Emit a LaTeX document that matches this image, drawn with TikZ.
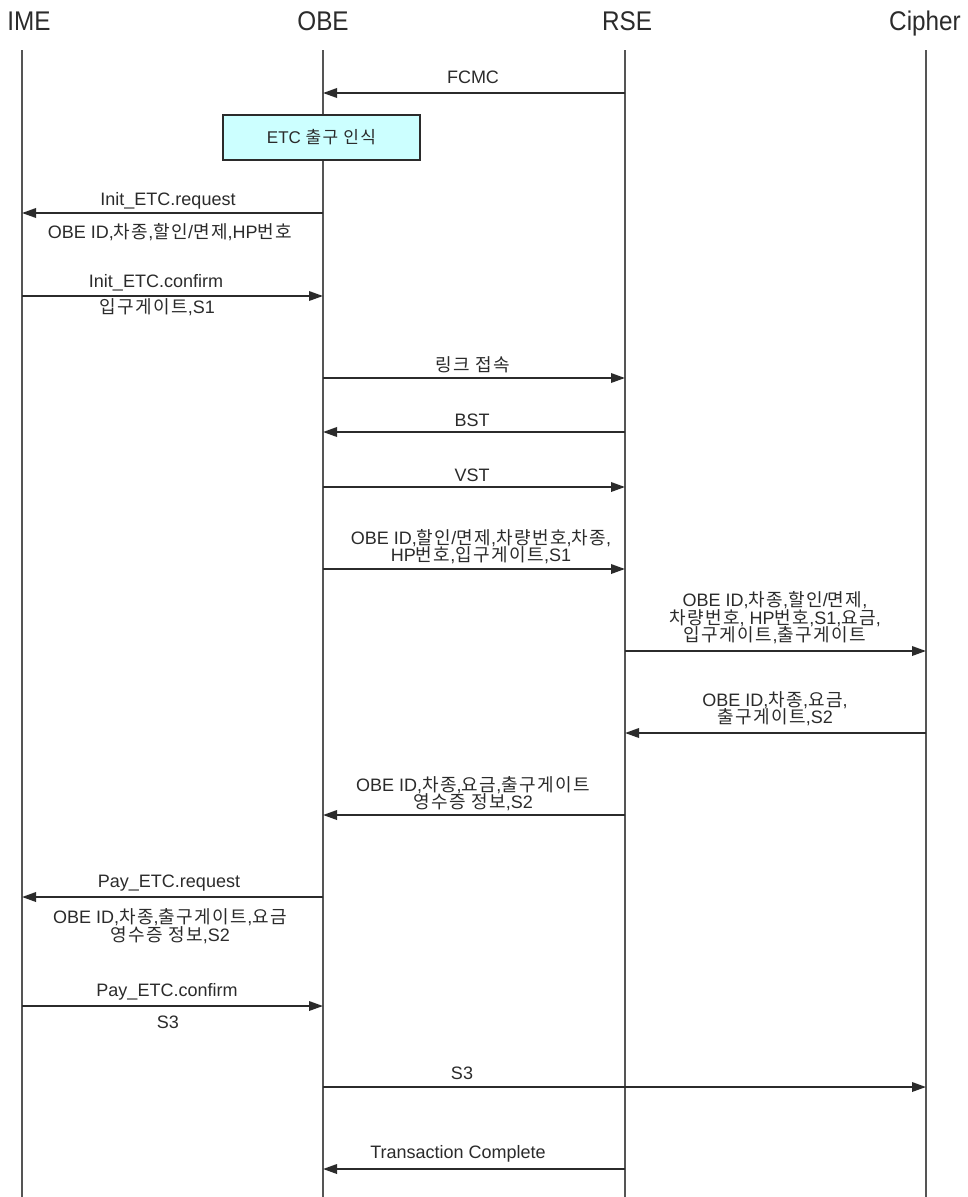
\documentclass[tikz,border=0pt]{standalone}
\usepackage{fontspec}
\setmainfont{Liberation Sans}
\newfontfamily\kr{Noto Sans CJK KR}[Scale=1.0,LetterSpace=8]
\usepackage{graphicx}
\usetikzlibrary{arrows.meta}
\newcommand\K[1]{{\kr #1}}
\definecolor{ink}{HTML}{2B2B2B}
\definecolor{boxfill}{HTML}{CCFFFF}
\newcommand\msg[4]{\coordinate (#1a) at (#2,#4);\coordinate (#1b) at (#3,#4);\draw[msgarrow] (#1a) -- (#1b);}
\begin{document}
\begin{tikzpicture}[x=1pt,y=-1pt,
  lifeline/.style={draw=ink!80, line width=1.4pt},
  msgarrow/.style={draw=ink, line width=1.8pt, -{Triangle[length=14pt,width=9.5pt]}},
  lbl/.style={text=ink, font=\fontsize{18}{17.5}\selectfont, align=center, inner sep=0pt},
  head/.style={text=ink, font=\fontsize{27}{27}\selectfont, inner sep=0pt, anchor=base},
  procbox/.style={draw=ink, line width=1.8pt, fill=boxfill, minimum width=197pt, minimum height=45pt, text=ink, font=\fontsize{17}{17}\selectfont, inner sep=0pt}]
\useasboundingbox (0,0) rectangle (968,1197);
\fill[white] (0,0) rectangle (968,1197);
\def\xI{22}\def\xO{323}\def\xR{625}\def\xC{926}
% headers
\node[head] (hIME) at (29,30) {\scalebox{0.9}[1]{IME}};
\node[head] (hOBE) at (323,30) {\scalebox{0.9}[1]{OBE}};
\node[head] (hRSE) at (627,30) {\scalebox{0.9}[1]{RSE}};
\node[head] (hCip) at (925,30) {\scalebox{0.9}[1]{Cipher}};
% lifelines
\coordinate (Itop) at (\xI,50); \coordinate (Ibot) at (\xI,1197);
\coordinate (Otop) at (\xO,50); \coordinate (Obot) at (\xO,1197);
\coordinate (Rtop) at (\xR,50); \coordinate (Rbot) at (\xR,1197);
\coordinate (Ctop) at (\xC,50); \coordinate (Cbot) at (\xC,1197);
\draw[lifeline] (Itop) -- (Ibot);
\draw[lifeline] (Otop) -- (Obot);
\draw[lifeline] (Rtop) -- (Rbot);
\draw[lifeline] (Ctop) -- (Cbot);
% process box
\node[procbox] (box) at (321.5,137.5) {\raisebox{3pt}{ETC \K{출구 인식}}};
% messages
\msg{m1}{\xR}{\xO}{93}
\msg{m2}{\xO}{\xI}{213}
\msg{m3}{\xI}{\xO}{296}
\msg{m4}{\xO}{\xR}{378}
\msg{m5}{\xR}{\xO}{432}
\msg{m6}{\xO}{\xR}{487}
\msg{m7}{\xO}{\xR}{569}
\msg{m8}{\xR}{\xC}{651}
\msg{m9}{\xC}{\xR}{733}
\msg{m10}{\xR}{\xO}{815}
\msg{m11}{\xO}{\xI}{897}
\msg{m12}{\xI}{\xO}{1006}
\msg{m13}{\xO}{\xC}{1087}
\msg{m14}{\xR}{\xO}{1169}
% labels
\node[lbl] (l1) at (473,77) {FCMC};
\node[lbl] (l2) at (168,201) {Init\_ETC.request};
\node[lbl] (l3) at (170,232) {OBE ID,\K{차종},\K{할인}/\K{면제},HP\K{번호}};
\node[lbl] (l4) at (156,283) {Init\_ETC.confirm};
\node[lbl] (l5) at (157,307) {\K{입구게이트},S1};
\node[lbl] (l6) at (473,365) {\K{링크 접속}};
\node[lbl] (l7) at (472,420) {BST};
\node[lbl] (l8) at (472,475) {VST};
\node[lbl] (l9) at (481,546.5) {OBE ID,\K{할인}/\K{면제},\K{차량번호},\K{차종},\\HP\K{번호},\K{입구게이트},S1};
\node[lbl] (l10) at (775,618) {OBE ID,\K{차종},\K{할인}/\K{면제},\\\K{차량번호}, HP\K{번호},S1,\K{요금},\\\K{입구게이트},\K{출구게이트}};
\node[lbl] (l11) at (775,708.5) {OBE ID,\K{차종},\K{요금},\\\K{출구게이트},S2};
\node[lbl] (l12) at (473,793.5) {OBE ID,\K{차종},\K{요금},\K{출구게이트}\\\K{영수증 정보},S2};
\node[lbl] (l13) at (169,883) {Pay\_ETC.request};
\node[lbl] (l14) at (170,926) {OBE ID,\K{차종},\K{출구게이트},\K{요금}\\\K{영수증 정보},S2};
\node[lbl] (l15) at (167,992) {Pay\_ETC.confirm};
\node[lbl] (l16) at (168,1022) {S3};
\node[lbl] (l17) at (462,1073) {S3};
\node[lbl] (l18) at (458,1154) {Transaction Complete};
\end{tikzpicture}
\end{document}
